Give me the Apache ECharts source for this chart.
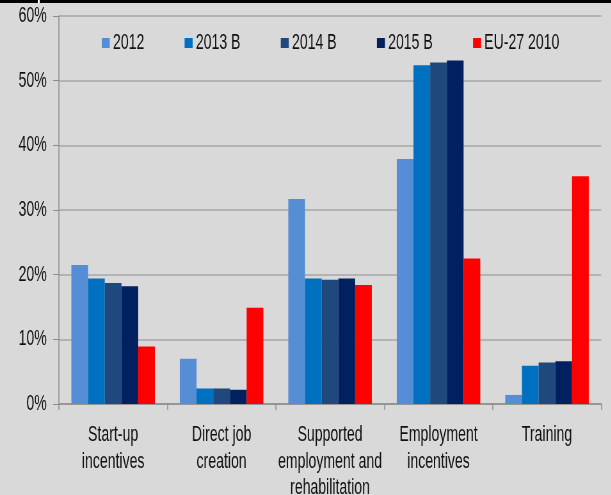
<!DOCTYPE html>
<html>
<head>
<meta charset="utf-8">
<script src="https://cdn.jsdelivr.net/npm/echarts@6/dist/echarts.min.js"></script>
<style>
  html, body { margin: 0; padding: 0; background: #d9d9d9; overflow: hidden; }
  /* the source picture is a horizontally squeezed Excel chart, so squeeze ours the same way */
  #wrap { width: 611px; height: 495px; overflow: hidden; }
  #chart { width: 955px; height: 495px; transform: scaleX(0.64); transform-origin: 0 0; }
</style>
</head>
<body>
<div id="wrap"><div id="chart"></div></div>
<script>
var categories = ["Start-up\nincentives", "Direct job\ncreation", "Supported\nemployment and\nrehabilitation", "Employment\nincentives", "Training"];
var seriesNames = ["2012", "2013 B", "2014 B", "2015 B", "EU-27 2010"];
var v2012 = [21.5, 7.0, 31.7, 37.9, 1.4];
var v2013 = [19.4, 2.4, 19.4, 52.4, 5.9];
var v2014 = [18.7, 2.4, 19.2, 52.8, 6.4];
var v2015 = [18.2, 2.2, 19.4, 53.1, 6.6];
var vEU = [8.9, 14.9, 18.4, 22.5, 35.2];
var yTicks = [0, 10, 20, 30, 40, 50, 60];

var colors = ["#558ed5", "#0070c0", "#1f497d", "#002060", "#ff0000"];
var font = "Liberation Sans, Arial, sans-serif";

var myChart = echarts.init(document.getElementById("chart"));

var allData = [v2012, v2013, v2014, v2015, vEU];
var series = allData.map(function(d, i) {
  return {
    name: seriesNames[i],
    type: "bar",
    data: d,
    barGap: "0%",
    barCategoryGap: "23%",
    itemStyle: { color: colors[i] }
  };
});

myChart.setOption({
  backgroundColor: "#d9d9d9",
  animation: false,
  color: colors,
  legend: {
    data: seriesNames,
    left: 159,
    top: 32,
    padding: 0,
    itemWidth: 12.5,
    itemHeight: 10,
    itemGap: 63,
    icon: "rect",
    textStyle: { fontFamily: font, fontSize: 22, lineHeight: 22, color: "#111" }
  },
  grid: {
    left: 92,
    right: 15.6,
    top: 16,
    bottom: 91,
    containLabel: false,
    outerBoundsMode: "none"
  },
  xAxis: {
    type: "category",
    data: categories,
    axisLine: { lineStyle: { color: "#8c8c8c", width: 1.5 } },
    axisTick: { show: true, length: 6, lineStyle: { color: "#8c8c8c", width: 1.5 } },
    axisLabel: {
      interval: 0,
      margin: 18,
      color: "#111",
      fontFamily: font,
      fontSize: 22,
      lineHeight: 26.5
    }
  },
  yAxis: {
    type: "value",
    min: yTicks[0],
    max: yTicks[yTicks.length - 1],
    interval: 10,
    axisLine: { show: true, lineStyle: { color: "#8c8c8c", width: 1.5 } },
    axisTick: { show: true, length: 9, lineStyle: { color: "#8c8c8c" } },
    splitLine: { lineStyle: { color: "#a6a6a6", width: 1.5 } },
    axisLabel: {
      margin: 19,
      color: "#111",
      fontFamily: font,
      fontSize: 22,
      formatter: "{value}%"
    }
  },
  graphic: [
    { type: "rect", shape: { x: 0, y: 0, width: 955, height: 3 }, style: { fill: "#000" } },
    { type: "rect", shape: { x: 59, y: 0, width: 3, height: 3 }, style: { fill: "#fff" } }
  ],
  series: series
});
</script>
</body>
</html>
